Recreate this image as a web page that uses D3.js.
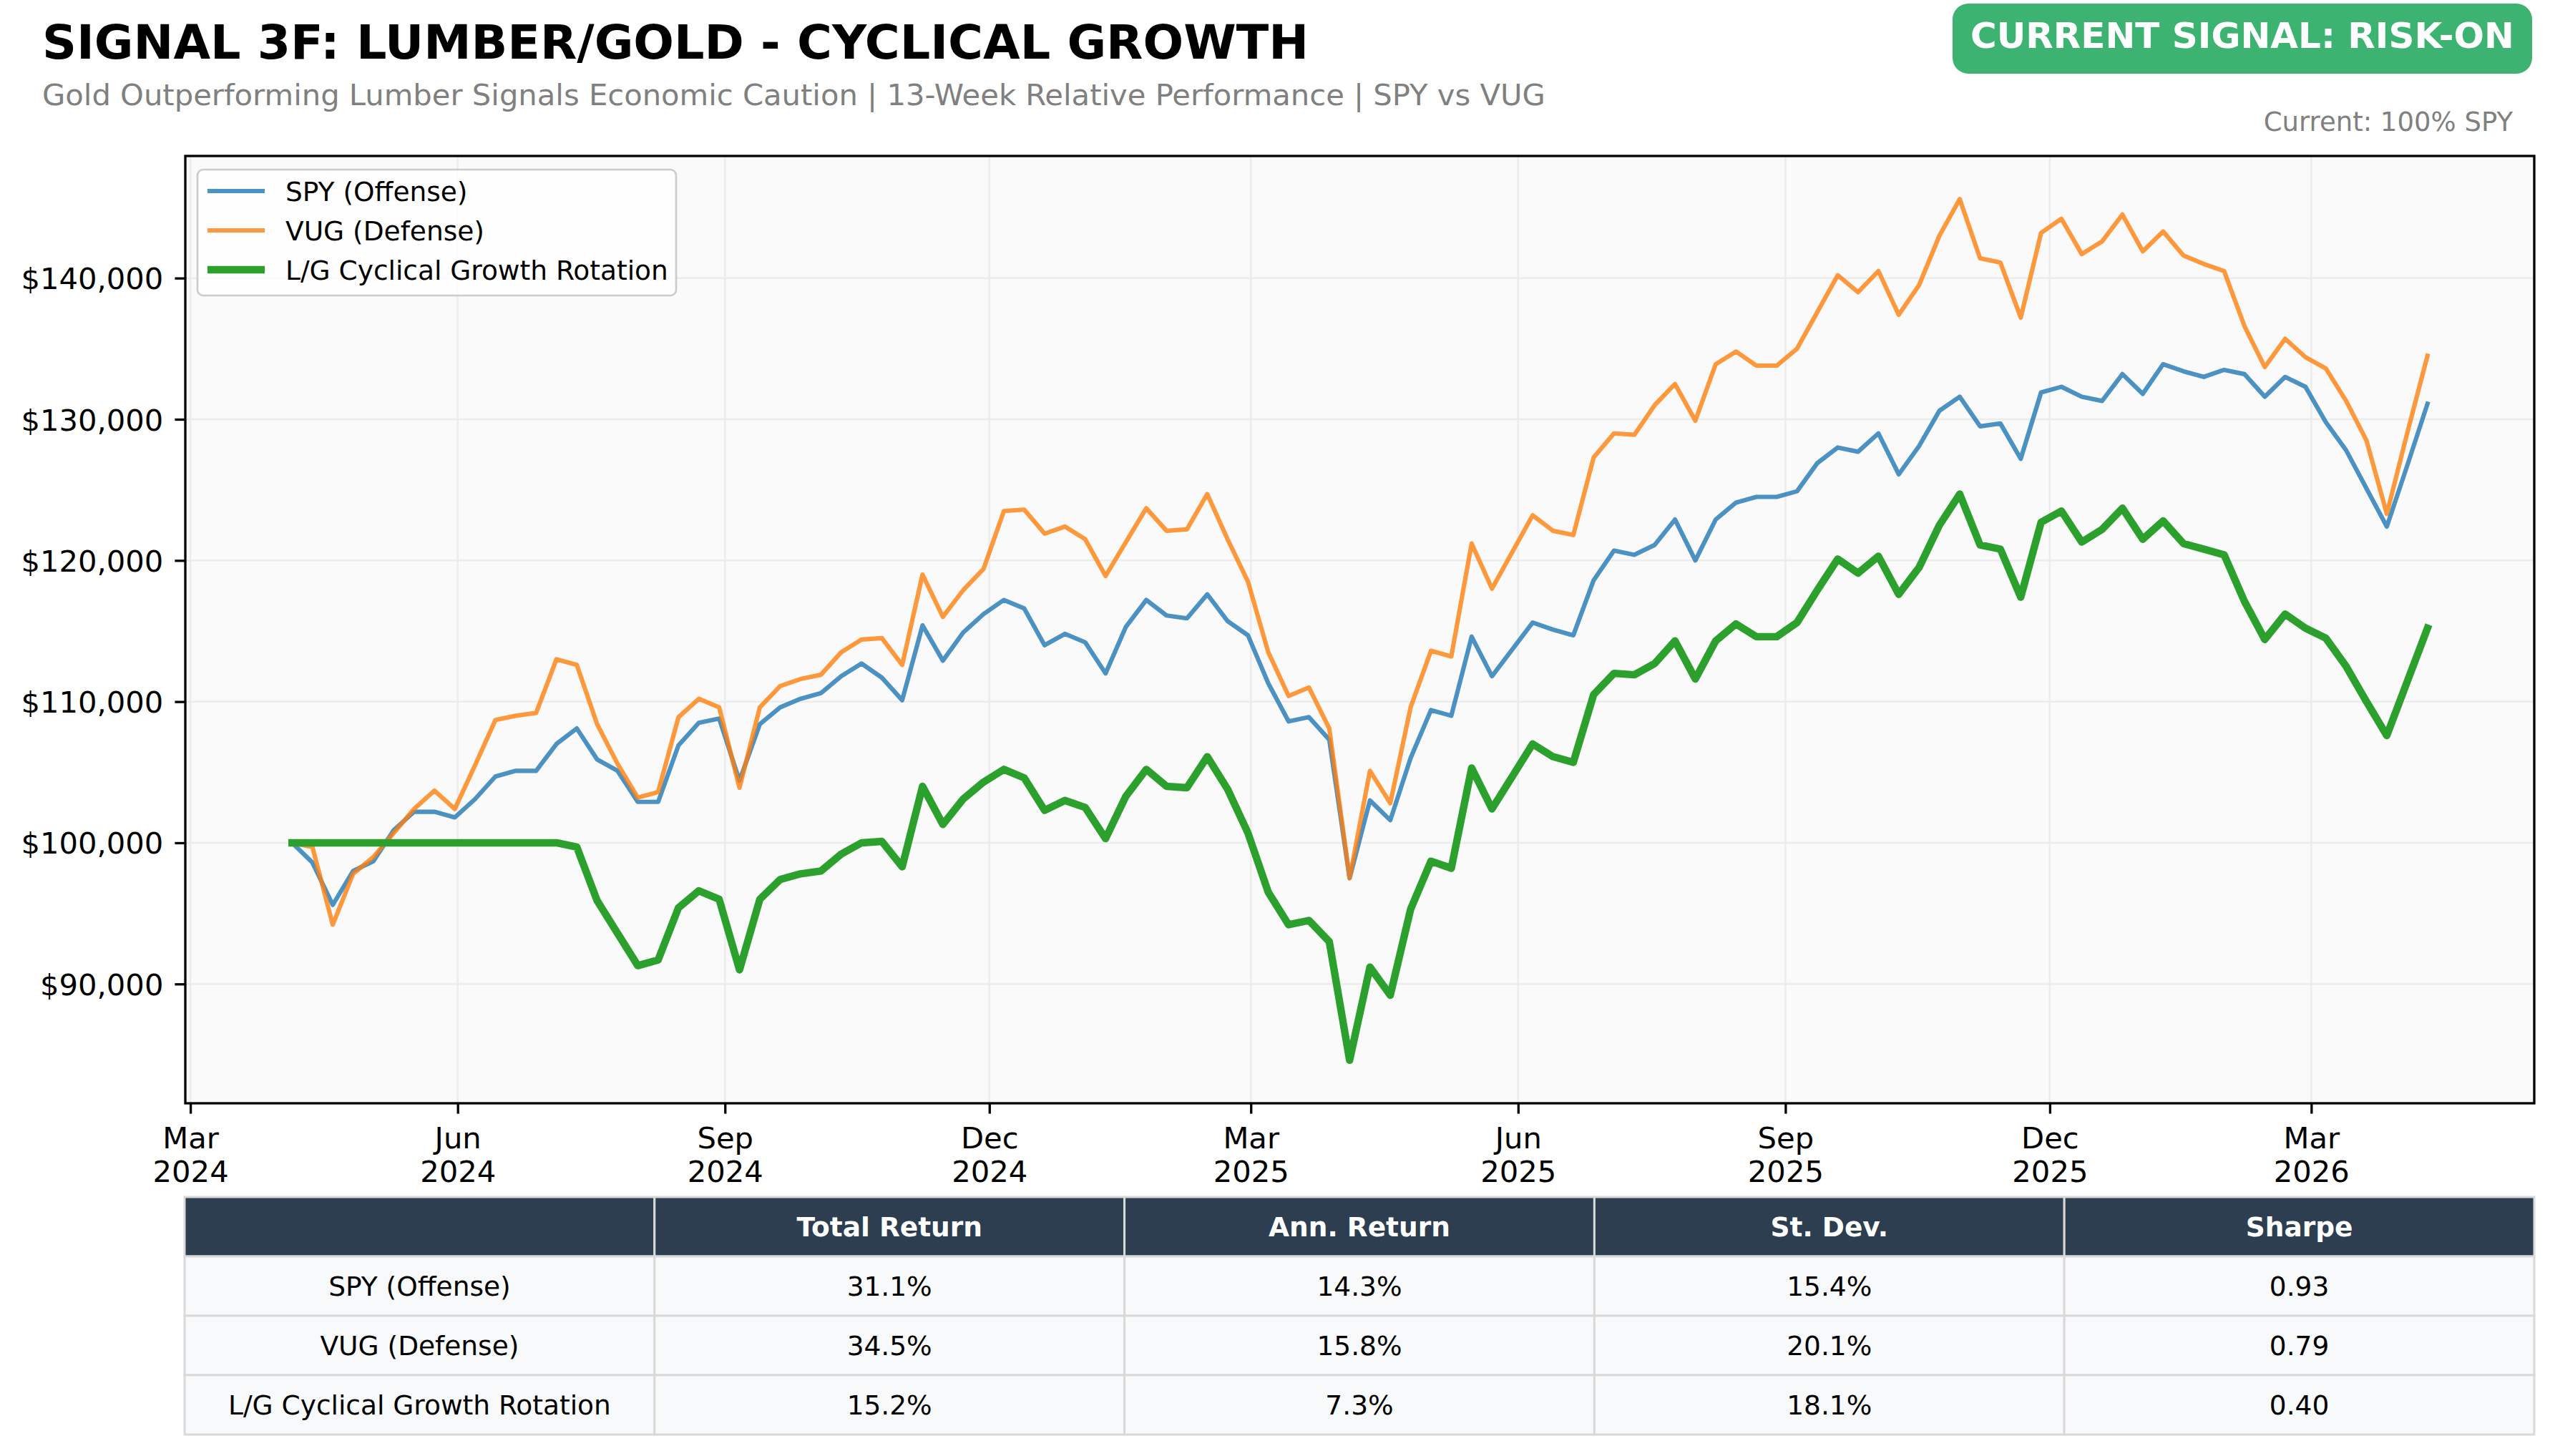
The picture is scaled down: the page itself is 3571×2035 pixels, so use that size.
<!DOCTYPE html>
<html>
<head>
<meta charset="utf-8">
<script src="https://cdn.jsdelivr.net/npm/d3@7"></script>
<style>
  body { margin: 0; background: #ffffff; }
  svg { display: block; font-family: "DejaVu Sans", sans-serif; }
</style>
</head>
<body>
<svg id="chart"></svg>
<script>
let W = 3571;
let H = 2035;
let fontFam = "DejaVu Sans, sans-serif";

// weekly closes start here, one point per week
let startDate = "2024-04-05";

// portfolio values in $ thousands
let spyK = [100.0, 98.6, 95.6, 98.0, 98.7, 100.9, 102.2, 102.2, 101.8, 103.1,
  104.7, 105.1, 105.1, 107.0, 108.1, 105.9, 105.1, 102.9, 102.9, 106.9,
  108.5, 108.8, 104.4, 108.4, 109.6, 110.2, 110.6, 111.8, 112.7, 111.7,
  110.1, 115.4, 112.9, 114.9, 116.2, 117.2, 116.6, 114.0, 114.8, 114.2,
  112.0, 115.3, 117.2, 116.1, 115.9, 117.6, 115.7, 114.7, 111.3, 108.6,
  108.9, 107.3, 97.5, 103.0, 101.6, 106.0, 109.4, 109.0, 114.6, 111.8,
  113.7, 115.6, 115.1, 114.7, 118.6, 120.7, 120.4, 121.1, 122.9, 120.0,
  122.9, 124.1, 124.5, 124.5, 124.9, 126.9, 128.0, 127.7, 129.0, 126.1,
  128.1, 130.6, 131.6, 129.5, 129.7, 127.2, 131.9, 132.3, 131.6, 131.3,
  133.2, 131.8, 133.9, 133.4, 133.0, 133.5, 133.2, 131.6, 133.0, 132.3,
  129.8, 127.8, 125.1, 122.4, 126.7, 131.1];

let vugK = [100.0, 99.7, 94.2, 97.8, 99.0, 100.7, 102.4, 103.7, 102.4, 105.5,
  108.7, 109.0, 109.2, 113.0, 112.6, 108.4, 105.6, 103.2, 103.6, 108.9,
  110.2, 109.6, 103.9, 109.6, 111.1, 111.6, 111.9, 113.5, 114.4, 114.5,
  112.6, 119.0, 116.0, 117.9, 119.4, 123.5, 123.6, 121.9, 122.4, 121.5,
  118.9, 121.3, 123.7, 122.1, 122.2, 124.7, 121.5, 118.5, 113.5, 110.4,
  111.0, 108.1, 97.5, 105.1, 102.8, 109.6, 113.6, 113.2, 121.2, 118.0,
  120.6, 123.2, 122.1, 121.8, 127.3, 129.0, 128.9, 131.0, 132.5, 129.9,
  133.9, 134.8, 133.8, 133.8, 135.0, 137.6, 140.2, 139.0, 140.5, 137.4,
  139.5, 143.0, 145.6, 141.4, 141.1, 137.2, 143.2, 144.2, 141.7, 142.6,
  144.5, 141.9, 143.3, 141.6, 141.0, 140.5, 136.6, 133.7, 135.7, 134.4,
  133.6, 131.3, 128.5, 123.3, 129.0, 134.5];

let rotK = [100.0, 100.0, 100.0, 100.0, 100.0, 100.0, 100.0, 100.0, 100.0, 100.0,
  100.0, 100.0, 100.0, 100.0, 99.7, 95.9, 93.6, 91.3, 91.7, 95.4,
  96.6, 96.0, 91.0, 96.0, 97.4, 97.8, 98.0, 99.2, 100.0, 100.1,
  98.3, 104.0, 101.3, 103.1, 104.3, 105.2, 104.6, 102.3, 103.0, 102.5,
  100.3, 103.3, 105.2, 104.0, 103.9, 106.1, 103.8, 100.7, 96.5, 94.2,
  94.5, 93.0, 84.6, 91.2, 89.2, 95.3, 98.7, 98.2, 105.3, 102.4,
  104.7, 107.0, 106.1, 105.7, 110.5, 112.0, 111.9, 112.7, 114.3, 111.6,
  114.3, 115.5, 114.6, 114.6, 115.6, 117.9, 120.1, 119.1, 120.3, 117.6,
  119.5, 122.5, 124.7, 121.1, 120.8, 117.4, 122.7, 123.5, 121.3, 122.2,
  123.7, 121.5, 122.8, 121.2, 120.8, 120.4, 117.1, 114.4, 116.2, 115.2,
  114.5, 112.5, 110.0, 107.6, 111.4, 115.2];

let seriesNames = ["SPY (Offense)", "VUG (Defense)", "L/G Cyclical Growth Rotation"];
let seriesColors = ["rgba(31,119,180,0.8)", "rgba(255,127,14,0.8)", "#2ca02c"];
let seriesWidths = [6.2, 6.2, 10.4];

let xTickDates = ["2024-03-01", "2024-06-01", "2024-09-01", "2024-12-01", "2025-03-01",
  "2025-06-01", "2025-09-01", "2025-12-01", "2026-03-01"];
let yTickValues = [90000, 100000, 110000, 120000, 130000, 140000];

let tableHeader = ["", "Total Return", "Ann. Return", "St. Dev.", "Sharpe"];
let tableRows = [
  ["SPY (Offense)", "31.1%", "14.3%", "15.4%", "0.93"],
  ["VUG (Defense)", "34.5%", "15.8%", "20.1%", "0.79"],
  ["L/G Cyclical Growth Rotation", "15.2%", "7.3%", "18.1%", "0.40"]
];

let parseDate = d3.timeParse("%Y-%m-%d");
let t0 = parseDate(startDate);
let dates = spyK.map((d, i) => d3.timeDay.offset(t0, 7 * i));
let allSeries = [spyK, vugK, rotK].map(arr => arr.map((v, i) => ({date: dates[i], value: v * 1000})));

let plot = {left: 259, right: 3542, top: 218, bottom: 1542};

let svg = d3.select("#chart").attr("width", W).attr("height", H);

// padding like matplotlib's 5% auto margins
let xExt = d3.extent(dates);
let xPad = (xExt[1] - xExt[0]) * 0.05;
let xScale = d3.scaleTime()
  .domain([new Date(+xExt[0] - xPad), new Date(+xExt[1] + xPad)])
  .range([plot.left, plot.right]);

let allVals = allSeries.flat().map(d => d.value);
let yMin = d3.min(allVals), yMax = d3.max(allVals);
let yPad = (yMax - yMin) * 0.05;
let yScale = d3.scaleLinear()
  .domain([yMin - yPad, yMax + yPad])
  .range([plot.bottom, plot.top]);

// axes background
svg.append("rect")
  .attr("x", plot.left).attr("y", plot.top)
  .attr("width", plot.right - plot.left).attr("height", plot.bottom - plot.top)
  .attr("fill", "#fafafa");

// grid
let xTicks = xTickDates.map(parseDate);
svg.append("g").selectAll("line")
  .data(xTicks).enter().append("line")
  .attr("x1", d => xScale(d)).attr("x2", d => xScale(d))
  .attr("y1", plot.top).attr("y2", plot.bottom)
  .attr("stroke", "#ececec").attr("stroke-width", 2.5);
svg.append("g").selectAll("line")
  .data(yTickValues).enter().append("line")
  .attr("x1", plot.left).attr("x2", plot.right)
  .attr("y1", d => yScale(d)).attr("y2", d => yScale(d))
  .attr("stroke", "#ececec").attr("stroke-width", 2.5);

// lines
let line = d3.line().x(d => xScale(d.date)).y(d => yScale(d.value));
svg.append("g").selectAll("path")
  .data(allSeries).enter().append("path")
  .attr("d", d => line(d))
  .attr("fill", "none")
  .attr("stroke", (d, i) => seriesColors[i])
  .attr("stroke-width", (d, i) => seriesWidths[i])
  .attr("stroke-linejoin", "round")
  .attr("stroke-linecap", "square");

// spines
svg.append("rect")
  .attr("x", plot.left).attr("y", plot.top)
  .attr("width", plot.right - plot.left).attr("height", plot.bottom - plot.top)
  .attr("fill", "none").attr("stroke", "#000").attr("stroke-width", 3.3);

// x axis
let monthFmt = d3.timeFormat("%b");
let yearFmt = d3.timeFormat("%Y");
let xAxis = d3.axisBottom(xScale).tickValues(xTicks).tickSize(14.6).tickPadding(10).tickFormat("");
let gx = svg.append("g")
  .attr("transform", "translate(0," + plot.bottom + ")")
  .call(xAxis)
  .attr("font-family", fontFam);
gx.select(".domain").remove();
gx.selectAll(".tick line").attr("stroke", "#000").attr("stroke-width", 3.3);
gx.selectAll(".tick").each(function(d) {
  let t = d3.select(this).append("text")
    .attr("fill", "#000")
    .attr("text-anchor", "middle")
    .style("font-family", fontFam)
    .style("font-size", "41.7px");
  t.append("tspan").attr("x", 0).attr("y", 63).text(monthFmt(d));
  t.append("tspan").attr("x", 0).attr("y", 110).text(yearFmt(d));
});

// y axis
let yAxis = d3.axisLeft(yScale).tickValues(yTickValues).tickSize(14.6).tickPadding(16)
  .tickFormat(d3.format("$,.0f"));
let gy = svg.append("g")
  .attr("transform", "translate(" + plot.left + ",0)")
  .call(yAxis)
  .attr("font-family", fontFam);
gy.select(".domain").remove();
gy.selectAll(".tick line").attr("stroke", "#000").attr("stroke-width", 3.3);
gy.selectAll(".tick text")
  .attr("fill", "#000")
  .style("font-family", fontFam)
  .style("font-size", "41.7px")
  .attr("dy", "0.36em");

// legend
let legend = svg.append("g");
legend.append("rect")
  .attr("x", 276).attr("y", 237)
  .attr("width", 669).attr("height", 176)
  .attr("rx", 8)
  .attr("fill", "rgba(255,255,255,0.8)")
  .attr("stroke", "#cccccc").attr("stroke-width", 2.7);
let legRows = legend.selectAll("g.item")
  .data(seriesNames).enter().append("g")
  .attr("class", "item")
  .attr("transform", (d, i) => "translate(0," + (267 + i * 55) + ")");
legRows.append("line")
  .attr("x1", 290).attr("x2", 370)
  .attr("stroke", (d, i) => seriesColors[i])
  .attr("stroke-width", (d, i) => seriesWidths[i]);
legRows.append("text")
  .attr("x", 399).attr("y", 0).attr("dy", "0.36em")
  .style("font-size", "37.5px")
  .attr("fill", "#000")
  .text(d => d);

// titles
svg.append("text")
  .attr("x", 59).attr("y", 82)
  .style("font-size", "66.7px").style("font-weight", "bold")
  .attr("fill", "#000")
  .text("SIGNAL 3F: LUMBER/GOLD - CYCLICAL GROWTH");
svg.append("text")
  .attr("x", 59).attr("y", 147)
  .style("font-size", "41.7px")
  .attr("fill", "#808080")
  .text("Gold Outperforming Lumber Signals Economic Caution | 13-Week Relative Performance | SPY vs VUG");

// signal badge
svg.append("rect")
  .attr("x", 2729).attr("y", 5)
  .attr("width", 810).attr("height", 98)
  .attr("rx", 22)
  .attr("fill", "#3cb371");
svg.append("text")
  .attr("x", 3134).attr("y", 67)
  .attr("text-anchor", "middle")
  .style("font-size", "50px").style("font-weight", "bold")
  .attr("fill", "#ffffff")
  .text("CURRENT SIGNAL: RISK-ON");
svg.append("text")
  .attr("x", 3512).attr("y", 183)
  .attr("text-anchor", "end")
  .style("font-size", "37px")
  .attr("fill", "#808080")
  .text("Current: 100% SPY");

// stats table
let tab = {left: 258, top: 1673, colW: (3542 - 258) / 5, rowH: 83};
let tableData = [tableHeader].concat(tableRows);
let rowsG = svg.append("g").selectAll("g")
  .data(tableData).enter().append("g")
  .attr("transform", (d, i) => "translate(0," + (tab.top + i * tab.rowH) + ")");
rowsG.each(function(row, ri) {
  let g = d3.select(this);
  g.selectAll("rect")
    .data(row).enter().append("rect")
    .attr("x", (d, ci) => tab.left + ci * tab.colW)
    .attr("y", 0)
    .attr("width", tab.colW).attr("height", tab.rowH)
    .attr("fill", ri === 0 ? "#2c3e50" : "#f8f9fa")
    .attr("stroke", "#d9d9d9").attr("stroke-width", 3);
  g.selectAll("text")
    .data(row).enter().append("text")
    .attr("x", (d, ci) => tab.left + (ci + 0.5) * tab.colW)
    .attr("y", tab.rowH / 2).attr("dy", "0.36em")
    .attr("text-anchor", "middle")
    .style("font-size", "37.5px")
    .style("font-weight", ri === 0 ? "bold" : "normal")
    .attr("fill", ri === 0 ? "#ffffff" : "#000000")
    .text(d => d);
});
</script>
</body>
</html>
